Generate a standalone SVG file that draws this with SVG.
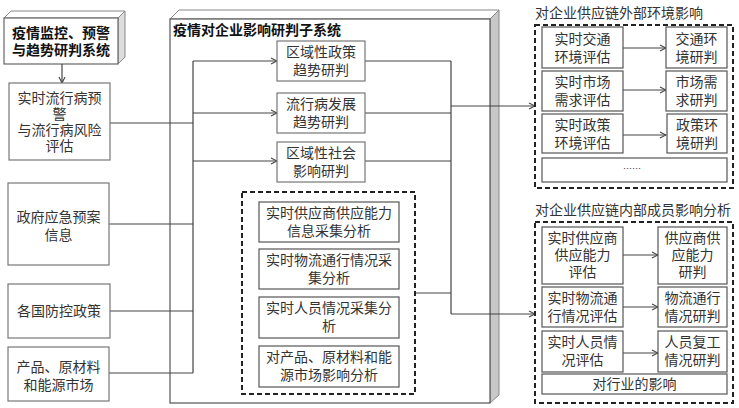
<svg xmlns="http://www.w3.org/2000/svg" width="739" height="408" viewBox="0 0 739 408">
<style>
text{font-family:"Noto Sans CJK SC","Liberation Sans",sans-serif;font-size:14px;fill:#333;text-anchor:middle}
.b{font-weight:bold;fill:#111}
.l{text-anchor:start}
.box{fill:#fff;stroke:#777;stroke-width:1.2}
.dbox{fill:#fff;stroke:#555;stroke-width:1.2}
.dash{fill:none;stroke:#222;stroke-width:2;stroke-dasharray:5,3}
.side{fill:#c8c8c8;stroke:#888;stroke-width:1}
.top{fill:#fff;stroke:#888;stroke-width:1}
.c{fill:none;stroke:#444;stroke-width:1.2}
.ca{fill:none;stroke:#444;stroke-width:1.2;marker-end:url(#a)}
</style>
<defs>
<marker id="a" viewBox="0 0 8 8" refX="7" refY="4" markerWidth="8" markerHeight="8" markerUnits="userSpaceOnUse" orient="auto">
<path d="M1,1 L7,4 L1,7" fill="none" stroke="#444" stroke-width="1.1"/>
</marker>
</defs>
<rect width="739" height="408" fill="#fff"/>

<!-- big 3D subsystem box -->
<g id="subsystem">
<polygon class="top" points="170,19 179,10 499,10 490,19"/>
<polygon class="side" points="490,19 499,10 499,395 490,403"/>
<rect x="170" y="19" width="320" height="384" fill="#fff" stroke="#555" stroke-width="1.2"/>
<text class="b l" x="173" y="35">疫情对企业影响研判子系统</text>
</g>

<!-- top-left 3D box -->
<g id="monitor">
<polygon class="top" points="4,18 11,11 125,11 118,18"/>
<polygon class="side" points="118,18 125,11 125,57 118,64" style="fill:#ddd"/>
<rect x="4" y="18" width="114" height="46" fill="#fff" stroke="#666" stroke-width="1.2"/>
<text class="b" x="61" y="38">疫情监控、预警</text>
<text class="b" x="61" y="55">与趋势研判系统</text>
</g>

<g id="connectors">
<path class="ca" d="M62,64 V83"/>
<path class="c" d="M110,123 H193 M109,224 H193 M110,311 H193 M109,373 H193 M193,61 V373"/>
<path class="ca" d="M193,61 H277"/>
<path class="ca" d="M193,113 H277"/>
<path class="ca" d="M193,161 H277"/>
<path class="c" d="M365,61 H451 M365,113 H451 M365,161 H451 M415,293 H451 M451,61 V314"/>
<path class="ca" d="M451,106 H535"/>
<path class="ca" d="M451,314 H535"/>
<path class="ca" d="M623,48 H666"/>
<path class="ca" d="M623,90 H666"/>
<path class="ca" d="M623,135 H666"/>
<path class="ca" d="M623,255 H658"/>
<path class="ca" d="M623,307 H658"/>
<path class="ca" d="M623,353 H658"/>
</g>

<!-- left input boxes -->
<g id="epidemic-warning">
<rect class="box" x="9" y="83" width="101" height="77"/>
<text x="59.5" y="103">实时流行病预</text>
<text x="59.5" y="119">警</text>
<text x="59.5" y="135">与流行病风险</text>
<text x="59.5" y="151">评估</text>
</g>
<g id="gov-plan">
<rect class="box" x="8" y="183" width="101" height="82"/>
<text x="58.5" y="222">政府应急预案</text>
<text x="58.5" y="240">信息</text>
</g>
<g id="policy">
<rect class="box" x="8" y="284" width="102" height="54"/>
<text x="59" y="316">各国防控政策</text>
</g>
<g id="market">
<rect class="box" x="8" y="347" width="101" height="54"/>
<text x="58.5" y="372">产品、原材料</text>
<text x="58.5" y="390">和能源市场</text>
</g>

<!-- middle study boxes -->
<g id="region-policy">
<rect class="box" x="277" y="41" width="88" height="40"/>
<text x="321" y="57">区域性政策</text>
<text x="321" y="75">趋势研判</text>
</g>
<g id="epidemic-trend">
<rect class="box" x="277" y="93" width="88" height="40"/>
<text x="321" y="109">流行病发展</text>
<text x="321" y="127">趋势研判</text>
</g>
<g id="region-social">
<rect class="box" x="277" y="142" width="88" height="40"/>
<text x="321" y="158">区域性社会</text>
<text x="321" y="176">影响研判</text>
</g>

<!-- inner dashed group -->
<g id="collection-group">
<rect class="dash" x="242" y="192" width="173" height="202"/>
</g>
<g id="supplier-collect">
<rect class="dbox" x="259" y="202" width="140" height="40"/>
<text x="329" y="218">实时供应商供应能力</text>
<text x="329" y="236">信息采集分析</text>
</g>
<g id="logistics-collect">
<rect class="dbox" x="259" y="249" width="140" height="40"/>
<text x="329" y="265">实时物流通行情况采</text>
<text x="329" y="283">集分析</text>
</g>
<g id="people-collect">
<rect class="dbox" x="259" y="297" width="140" height="41"/>
<text x="329" y="313">实时人员情况采集分</text>
<text x="329" y="331">析</text>
</g>
<g id="market-analysis">
<rect class="dbox" x="259" y="346" width="140" height="41"/>
<text x="329" y="362">对产品、原材料和能</text>
<text x="329" y="380">源市场影响分析</text>
</g>

<!-- right top group -->
<g id="external-group">
<text class="l" x="535" y="18">对企业供应链外部环境影响</text>
<rect class="dash" x="535" y="25" width="198" height="163"/>
</g>
<g id="traffic-eval"><rect class="dbox" x="542" y="27" width="81" height="41"/><text x="582.5" y="44">实时交通</text><text x="582.5" y="62">环境评估</text></g>
<g id="traffic-judge"><rect class="dbox" x="666" y="27" width="61" height="41"/><text x="696.5" y="44">交通环</text><text x="696.5" y="62">境研判</text></g>
<g id="market-eval"><rect class="dbox" x="542" y="71" width="81" height="40"/><text x="582.5" y="87">实时市场</text><text x="582.5" y="105">需求评估</text></g>
<g id="market-judge"><rect class="dbox" x="666" y="71" width="61" height="40"/><text x="696.5" y="87">市场需</text><text x="696.5" y="105">求研判</text></g>
<g id="policy-eval"><rect class="dbox" x="542" y="114" width="81" height="39"/><text x="582.5" y="130">实时政策</text><text x="582.5" y="148">环境评估</text></g>
<g id="policy-judge"><rect class="dbox" x="667" y="114" width="60" height="39"/><text x="697" y="130">政策环</text><text x="697" y="148">境研判</text></g>
<g id="etc"><rect class="dbox" x="542" y="158" width="185" height="24"/><text x="632" y="172" style="font-size:9px">……</text></g>

<!-- right bottom group -->
<g id="internal-group">
<text class="l" x="535" y="215">对企业供应链内部成员影响分析</text>
<rect class="dash" x="535" y="222" width="198" height="181"/>
</g>
<g id="supplier-eval"><rect class="dbox" x="542" y="227" width="81" height="57"/><text x="582.5" y="243">实时供应商</text><text x="582.5" y="260">供应能力</text><text x="582.5" y="277">评估</text></g>
<g id="supplier-judge"><rect class="dbox" x="658" y="227" width="69" height="57"/><text x="692.5" y="243">供应商供</text><text x="692.5" y="260">应能力</text><text x="692.5" y="277">研判</text></g>
<g id="logistics-eval"><rect class="dbox" x="542" y="287" width="81" height="40"/><text x="582.5" y="303">实时物流通</text><text x="582.5" y="321">行情况评估</text></g>
<g id="logistics-judge"><rect class="dbox" x="658" y="287" width="69" height="40"/><text x="692.5" y="303">物流通行</text><text x="692.5" y="321">情况研判</text></g>
<g id="people-eval"><rect class="dbox" x="542" y="331" width="81" height="41"/><text x="582.5" y="347">实时人员情</text><text x="582.5" y="365">况评估</text></g>
<g id="people-judge"><rect class="dbox" x="658" y="331" width="69" height="41"/><text x="692.5" y="347">人员复工</text><text x="692.5" y="365">情况研判</text></g>
<g id="industry"><rect class="dbox" x="542" y="374" width="185" height="20"/><text x="634.5" y="389">对行业的影响</text></g>
</svg>
